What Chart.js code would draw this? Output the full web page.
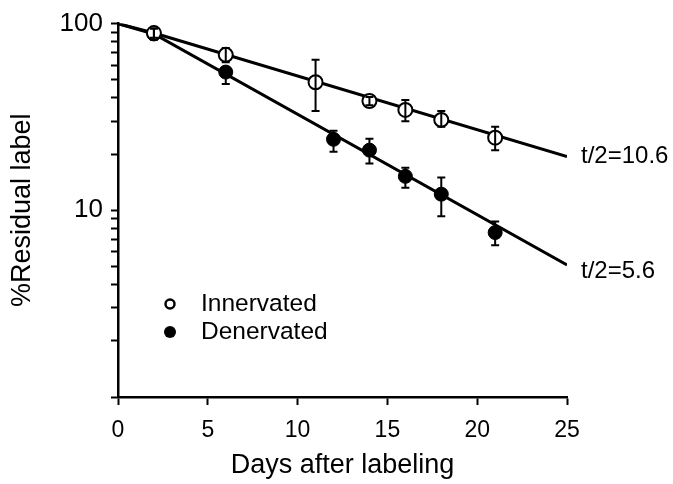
<!DOCTYPE html>
<html lang="en">
<head>
<meta charset="UTF-8" />
<title>Residual label</title>
<script src="https://cdn.jsdelivr.net/npm/chart.js"></script>
<style>
  body { margin: 0; background: #fff; }
  #wrap { width: 673px; height: 484px; }
</style>
</head>
<body>
<div id="wrap"><canvas id="decayChart"></canvas></div>
<script>
  // values
  const innDays = [2, 6, 11, 14, 16, 18, 21];
  const innMean = [89, 68, 48.5, 38.5, 34.5, 30.5, 24.5];
  const innLow  = [84, 62, 34, 36.5, 30, 28, 21];
  const innHigh = [94, 74, 64, 40.5, 39, 34, 28];

  const denDays = [2, 6, 12, 14, 16, 18, 21];
  const denMean = [88, 55, 24, 21, 15.2, 12.2, 7.6];
  const denLow  = [82, 47.5, 20.6, 17.8, 13.2, 9.3, 6.5];
  const denHigh = [94, 58.5, 26.7, 24.2, 16.9, 15.0, 8.7];

  // fitted decay lines (vertices)
  const fitDays = [0, 2, 25];
  const innFit = [100, 89, 19.4];
  const denFit = [100, 88, 5.1];
  const fitLabels = ['t/2=10.6', 't/2=5.6'];

  const yTickValues = [1, 2, 3, 4, 5, 6, 7, 8, 9, 10, 20, 30, 40, 50, 60, 70, 80, 90, 100];

  const FONT = 'Liberation Sans, Arial, sans-serif';

  const toPts = (xs, ys) => xs.map((x, i) => ({ x: x, y: ys[i] }));

  // error bars, half-life labels and the legend
  const extras = {
    id: 'extras',
    afterDatasetsDraw(chart) {
      const ctx = chart.ctx;
      const xs = chart.scales.x, ys = chart.scales.y;
      ctx.save();
      ctx.strokeStyle = '#000';
      ctx.lineWidth = 2;
      const bars = [[innDays, innLow, innHigh], [denDays, denLow, denHigh]];
      bars.forEach(([days, lo, hi]) => {
        days.forEach((d, i) => {
          const px = xs.getPixelForValue(d);
          const y1 = ys.getPixelForValue(lo[i]);
          const y2 = ys.getPixelForValue(hi[i]);
          ctx.beginPath();
          ctx.moveTo(px, y1); ctx.lineTo(px, y2);
          ctx.moveTo(px - 4, y1); ctx.lineTo(px + 4, y1);
          ctx.moveTo(px - 4, y2); ctx.lineTo(px + 4, y2);
          ctx.stroke();
        });
      });
      ctx.restore();
    },
    afterDraw(chart) {
      const ctx = chart.ctx;
      const xs = chart.scales.x, ys = chart.scales.y;
      ctx.save();
      ctx.fillStyle = '#000';
      ctx.font = '24px ' + FONT;
      ctx.textBaseline = 'middle';
      ctx.textAlign = 'left';
      const ends = [innFit[innFit.length - 1], denFit[denFit.length - 1]];
      const dy = [0, 6];
      ends.forEach((v, i) => {
        const px = xs.getPixelForValue(fitDays[fitDays.length - 1]) + 14;
        const py = ys.getPixelForValue(v) + dy[i];
        ctx.fillText(fitLabels[i], px, py);
      });

      // legend
      ctx.lineWidth = 2.5;
      ctx.strokeStyle = '#000';
      ctx.beginPath();
      ctx.arc(170, 304, 4.5, 0, Math.PI * 2);
      ctx.fillStyle = '#fff';
      ctx.fill();
      ctx.stroke();
      ctx.beginPath();
      ctx.arc(170, 332, 6, 0, Math.PI * 2);
      ctx.fillStyle = '#000';
      ctx.fill();
      ctx.font = '24.5px ' + FONT;
      ctx.fillText('Innervated', 201, 304);
      ctx.fillText('Denervated', 201, 332);
      ctx.restore();
    }
  };

  const ctx = document.getElementById('decayChart').getContext('2d');
  new Chart(ctx, {
    type: 'scatter',
    data: {
      datasets: [
        {
          label: 'Innervated fit',
          data: toPts(fitDays, innFit),
          showLine: true,
          borderColor: '#000',
          borderWidth: 3,
          pointRadius: 0
        },
        {
          label: 'Denervated fit',
          data: toPts(fitDays, denFit),
          showLine: true,
          borderColor: '#000',
          borderWidth: 3,
          pointRadius: 0
        },
        {
          label: 'Innervated',
          data: toPts(innDays, innMean),
          pointRadius: 7,
          pointBackgroundColor: '#fff',
          pointBorderColor: '#000',
          pointBorderWidth: 2,
          order: -1
        },
        {
          label: 'Denervated',
          data: toPts(denDays, denMean),
          pointRadius: 7,
          pointBackgroundColor: '#000',
          pointBorderColor: '#000',
          pointBorderWidth: 1,
          order: -1
        }
      ]
    },
    options: {
      responsive: true,
      maintainAspectRatio: false,
      animation: false,
      layout: { padding: { top: 19, right: 106, bottom: 0, left: 0 } },
      plugins: {
        legend: { display: false },
        tooltip: { enabled: false }
      },
      scales: {
        x: {
          type: 'linear',
          min: 0,
          max: 25,
          afterFit: (s) => { s.height = 87; },
          ticks: {
            stepSize: 5,
            color: '#000',
            padding: 12,
            font: { family: FONT, size: 23 }
          },
          grid: {
            drawOnChartArea: false,
            tickLength: 8,
            tickColor: '#000',
            tickWidth: 2
          },
          border: { color: '#000', width: 2.5 },
          title: {
            display: true,
            text: 'Days after labeling',
            color: '#000',
            font: { family: FONT, size: 27 },
            padding: { top: 0, bottom: 2 }
          }
        },
        y: {
          type: 'logarithmic',
          min: 1,
          max: 100,
          afterFit: (s) => { s.width = 118; },
          afterBuildTicks: (s) => { s.ticks = yTickValues.map(v => ({ value: v })); },
          ticks: {
            autoSkip: false,
            color: '#000',
            padding: 8,
            font: { family: FONT, size: 26 },
            callback: (v) => (v === 10 || v === 100) ? String(v) : ''
          },
          grid: {
            drawOnChartArea: false,
            tickLength: 7,
            tickColor: '#000',
            tickWidth: 2
          },
          border: { color: '#000', width: 2.5 },
          title: {
            display: true,
            text: '%Residual label',
            color: '#000',
            font: { family: FONT, size: 27 },
            padding: { top: 6, bottom: 0 }
          }
        }
      }
    },
    plugins: [extras]
  });
</script>
</body>
</html>
